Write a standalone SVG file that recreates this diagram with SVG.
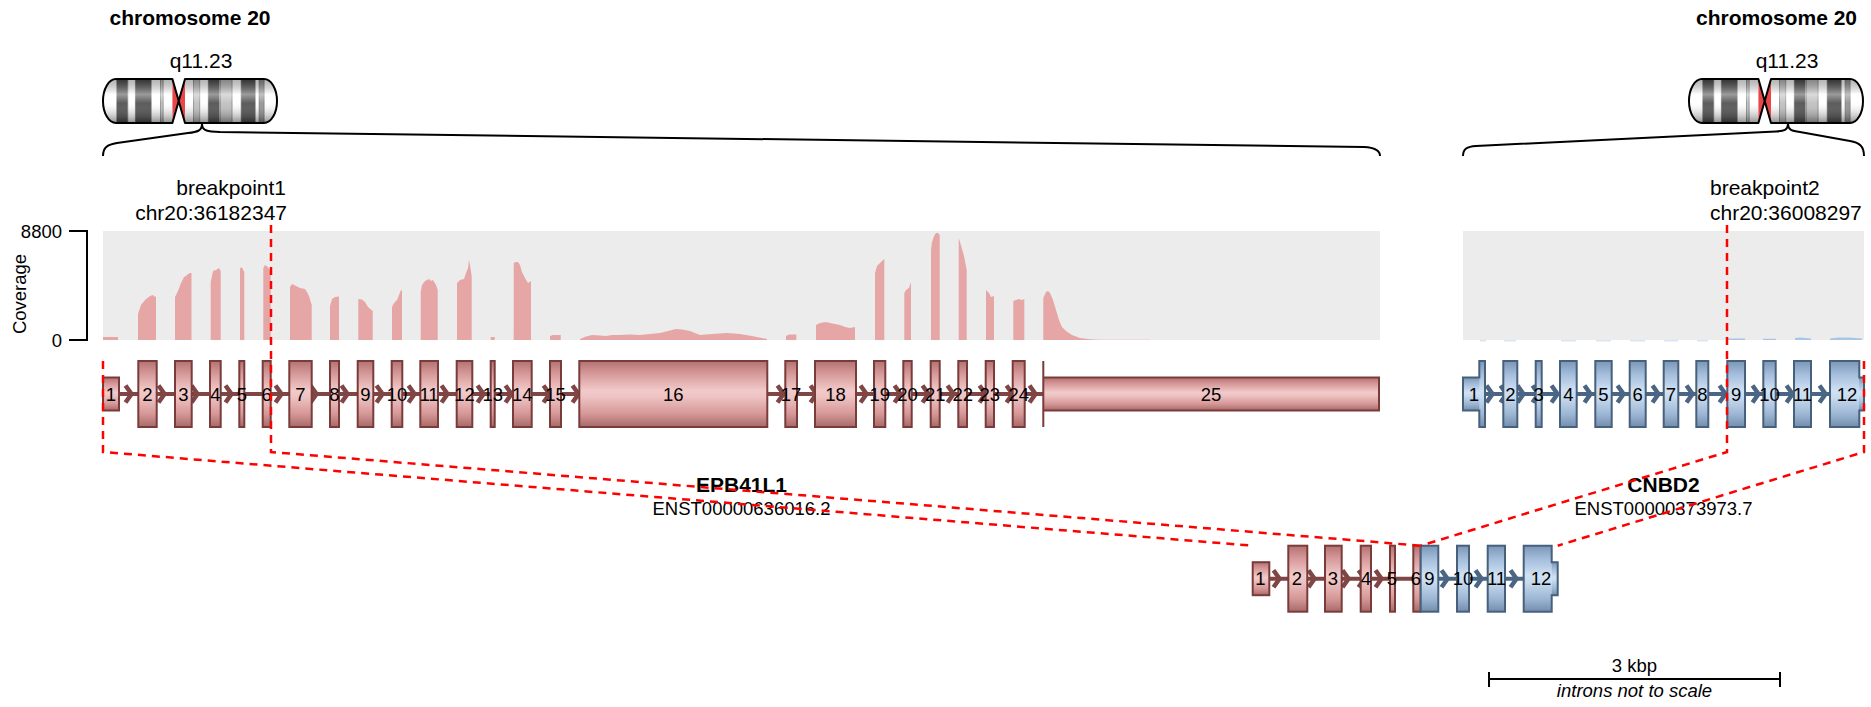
<svg xmlns="http://www.w3.org/2000/svg" xmlns:xlink="http://www.w3.org/1999/xlink" width="1871" height="707" viewBox="0 0 1871 707">
  <style>
    text { font-family: "Liberation Sans", Arial, sans-serif; fill: #000; }
    .big { font-size: 21px; }
    .mid { font-size: 18.5px; }
    .bold { font-weight: bold; }
    .c { text-anchor: middle; }
    .e { text-anchor: end; }
    .lbl { font-size: 18.5px; text-anchor: middle; }
    .exA { fill: url(#gradA); stroke: #7a3b3b; stroke-width: 2; }
    .exB { fill: url(#gradB); stroke: #47607c; stroke-width: 2; }
    .fillA { fill: url(#gradA); stroke: none; }
    .fillB { fill: url(#gradB); stroke: none; }
    .outA { fill: none; stroke: #7a3b3b; stroke-width: 2; }
    .outB { fill: none; stroke: #47607c; stroke-width: 2; }
    .inA { stroke: #804545; stroke-width: 4; fill: none; }
    .inB { stroke: #4b6584; stroke-width: 4; fill: none; }
    .chA { stroke: #804545; stroke-width: 4.5; fill: none; }
    .chB { stroke: #4b6584; stroke-width: 4.5; fill: none; }
    .covA { fill: #e6a6a6; }
    .covB { fill: #a9c5e6; }
    .bg { fill: #ececec; }
    .axis { stroke: #000; stroke-width: 2; fill: none; }
    .brace { stroke: #000; stroke-width: 2; fill: none; }
    .bp { stroke: #ff0000; stroke-width: 2.5; stroke-dasharray: 8 6; fill: none; }
    .gneg { fill: #ffffff; }
    .g25 { fill: #bdbdbd; }
    .g50 { fill: #8f8f8f; }
    .g75 { fill: #4a4a4a; }
  </style>
  <defs>
    <linearGradient id="gradA" x1="0" y1="0" x2="0" y2="1">
      <stop offset="0" stop-color="#b47272"/>
      <stop offset="0.2" stop-color="#d79a9a"/>
      <stop offset="0.45" stop-color="#f2caca"/>
      <stop offset="0.55" stop-color="#eec2c2"/>
      <stop offset="0.8" stop-color="#d69797"/>
      <stop offset="1" stop-color="#a86969"/>
    </linearGradient>
    <linearGradient id="gradB" x1="0" y1="0" x2="0" y2="1">
      <stop offset="0" stop-color="#7b96b6"/>
      <stop offset="0.2" stop-color="#a3bddb"/>
      <stop offset="0.45" stop-color="#d0e1f3"/>
      <stop offset="0.55" stop-color="#c8dbef"/>
      <stop offset="0.8" stop-color="#9db7d4"/>
      <stop offset="1" stop-color="#738dad"/>
    </linearGradient>
    <linearGradient id="shade" x1="0" y1="0" x2="0" y2="1">
      <stop offset="0" stop-color="#000" stop-opacity="0.3"/>
      <stop offset="0.35" stop-color="#fff" stop-opacity="0.45"/>
      <stop offset="0.55" stop-color="#fff" stop-opacity="0.1"/>
      <stop offset="1" stop-color="#000" stop-opacity="0.45"/>
    </linearGradient>
    <clipPath id="chrClip">
      <path d="M172.4,79 H116 A13,22 0 0 0 116,123 H172.4 Z M185,79 H264 A13,22 0 0 1 264,123 H185 Z"/>
    </clipPath>
    <path id="chevA" class="chA" d="M-5.5,-8.5 L0.5,0 L-5.5,8.5"/>
    <path id="chevB" class="chB" d="M-5.5,-8.5 L0.5,0 L-5.5,8.5"/>
    <!-- chromosome 20 ideogram (hg38 bands), drawn at the left position -->
    <g id="chr20">
      <g clip-path="url(#chrClip)">
        <rect class="gneg" x="103" y="79" width="13.8" height="44"/>
        <rect class="g75" x="116.8" y="79" width="11" height="44"/>
        <rect class="gneg" x="127.8" y="79" width="7.6" height="44"/>
        <rect class="g75" x="135.4" y="79" width="15.9" height="44"/>
        <rect class="gneg" x="151.3" y="79" width="9.2" height="44"/>
        <rect class="g25" x="160.5" y="79" width="2.7" height="44"/>
        <rect class="gneg" x="163.2" y="79" width="9.2" height="44"/>
        <rect class="gneg" x="185" y="79" width="8.5" height="44"/>
        <rect class="g25" x="193.5" y="79" width="6.2" height="44"/>
        <rect class="gneg" x="199.7" y="79" width="8.6" height="44"/>
        <rect class="g75" x="208.3" y="79" width="11.1" height="44"/>
        <rect class="gneg" x="219.4" y="79" width="1.1" height="44"/>
        <rect class="g25" x="220.5" y="79" width="11.6" height="44"/>
        <rect class="gneg" x="232.1" y="79" width="9.1" height="44"/>
        <rect class="g75" x="241.2" y="79" width="14.1" height="44"/>
        <rect class="gneg" x="255.3" y="79" width="3.8" height="44"/>
        <rect class="g50" x="259.1" y="79" width="5.1" height="44"/>
        <rect class="gneg" x="264.2" y="79" width="13" height="44"/>
        <g stroke="#555" stroke-width="0.6">
          <line x1="116.8" y1="79" x2="116.8" y2="123"/>
          <line x1="127.8" y1="79" x2="127.8" y2="123"/>
          <line x1="135.4" y1="79" x2="135.4" y2="123"/>
          <line x1="151.3" y1="79" x2="151.3" y2="123"/>
          <line x1="160.5" y1="79" x2="160.5" y2="123"/>
          <line x1="163.2" y1="79" x2="163.2" y2="123"/>
          <line x1="193.5" y1="79" x2="193.5" y2="123"/>
          <line x1="199.7" y1="79" x2="199.7" y2="123"/>
          <line x1="208.3" y1="79" x2="208.3" y2="123"/>
          <line x1="219.4" y1="79" x2="219.4" y2="123"/>
          <line x1="220.5" y1="79" x2="220.5" y2="123"/>
          <line x1="232.1" y1="79" x2="232.1" y2="123"/>
          <line x1="241.2" y1="79" x2="241.2" y2="123"/>
          <line x1="255.3" y1="79" x2="255.3" y2="123"/>
          <line x1="259.1" y1="79" x2="259.1" y2="123"/>
          <line x1="264.2" y1="79" x2="264.2" y2="123"/>
        </g>
        <rect x="100" y="79" width="180" height="44" fill="url(#shade)"/>
      </g>
      <!-- centromere -->
      <path d="M172.4,79 L178.7,101 L172.4,123 Z M185,79 L178.7,101 L185,123 Z" fill="#e8474a"/>
      <path d="M172.4,79 H116 A13,22 0 0 0 116,123 H172.4 L185,79 H264 A13,22 0 0 1 264,123 H185 L172.4,79 Z" fill="none" stroke="#000" stroke-width="2" stroke-linejoin="round"/>
    </g>
  </defs>

  <!-- chromosome panels -->
  <g id="chromosome-left">
    <text class="big bold c" x="190" y="25">chromosome 20</text>
    <text class="big c" x="201" y="68">q11.23</text>
    <use xlink:href="#chr20"/>
    <path class="brace" d="M202,124 C202,131 197,132 188,133 L117,143 C107,144.5 103,148 103,156"/>
    <path class="brace" d="M202,124 C202,131 208,131.5 220,132 L1364,147 C1374,147.5 1380,150 1380,156"/>
  </g>
  <g id="chromosome-right">
    <text class="big bold c" x="1776.5" y="25">chromosome 20</text>
    <text class="big c" x="1787" y="68">q11.23</text>
    <use xlink:href="#chr20" transform="translate(1586,0)"/>
    <path class="brace" d="M1788,124 C1788,130 1784,131 1776,131.5 L1476,146 C1467,146.5 1463,149 1463,156"/>
    <path class="brace" d="M1788,124 C1788,130 1792,131 1800,132 L1850,141 C1859,142.5 1864,146 1864,156"/>
  </g>

  <!-- coverage axis -->
  <g id="coverage-axis">
    <path class="axis" d="M69,231 H87 V340 H69"/>
    <text class="mid e" x="62" y="238">8800</text>
    <text class="mid e" x="62" y="346.5">0</text>
    <text class="mid c" transform="translate(26,294) rotate(-90)">Coverage</text>
  </g>

  <!-- coverage of EPB41L1 -->
  <g id="coverage-gene1">
    <rect class="bg" x="103" y="231" width="1277" height="109"/>
    <path class="covA" d="M103,340 V337 H118 V340 Z
      M138,340 V314 L141,305 L145,300 L150,296 L153,295 L155,297 L156,296 V340 Z
      M175,340 V297 L178,291 L181,283 L184,277 L186,276 L188,274 L190,273 L191.5,273 V340 Z
      M210.7,340 V282 L213,271 L216,270 L219,268 L220.7,271 V340 Z
      M240,340 V268 L242,267.5 L244.3,272 V340 Z
      M263.3,340 V268 L265,265 L268,267 L270.7,272 V340 Z
      M290,340 V287 L292,284 L296,286 L300,288 L305,289 L307,292 L309,296 L311.7,305 V340 Z
      M330,340 V306 L332,299 L335,297 L339,296.5 V340 Z
      M358.3,340 V299 L362,299.5 L365,302 L368,307 L372.7,311 V340 Z
      M392,340 V307 L394,303 L397,300 L399,295 L401,290 L402,291 V340 Z
      M420.7,340 V292 L422,285 L425,281 L429,279 L431,281 L433,280 L436,285 L437.7,290 V340 Z
      M457,340 V283 L460,280 L464,279 L466,273 L468,268 L469,260 L470,265 L471.7,276 V340 Z
      M490.7,340 V337 H494.7 V340 Z
      M513.7,340 V263 L516,262 L518,262 L520,265 L522,272 L525,278 L528,283 L531,281 V340 Z
      M550,340 V336 L553,335 H560.7 V340 Z
      M580,340 V339 L586,336.5 L592,335 L600,335.5 L606,336 L612,335 L620,335 L630,334.5 L640,335 L650,334 L660,333 L668,331 L676,329 L682,329.5 L690,331 L700,335 L712,334 L727,333 L740,334 L752,336 L767,339 V340 Z
      M786,340 V336 L789,334.5 H796.3 V340 Z
      M816,340 V325 L820,323 L826,322 L830,323 L835,324 L840,325 L845,327 L850,328 L855,327 V340 Z
      M875,340 V273 L877,266 L880,263 L882,261 L884.3,259 V340 Z
      M904.3,340 V293 L906,290 L909,288 L911,282 V340 Z
      M931,340 V250 L932,242 L934,236 L936,233 L938,233 L939.7,235 V340 Z
      M958.7,340 V238 L960,242 L962,249 L964,256 L966.7,270 V340 Z
      M986,340 V290 L989,293 L991,297 L994,296 V340 Z
      M1013.3,340 V301 L1016,300 L1019,299 L1022,300 L1024.3,299 V340 Z
      M1043.3,340 V298 L1046,292 L1048,291 L1050,293 L1053,300 L1056,310 L1059,320 L1062,327 L1066,331 L1072,335 L1080,338 L1090,339.3 L1100,339.7 L1150,339.8 V340 Z"/>
  </g>

  <!-- coverage of CNBD2 -->
  <g id="coverage-gene2">
    <rect class="bg" x="1463" y="231" width="401" height="109"/>
    <path class="covB" d="M1727,340 V338.6 H1745 V340 Z M1763,340 V338.8 H1776 V340 Z M1795,340 V338 L1800,337.6 L1806,338 L1811,338.4 V340 Z M1830,340 V338.4 L1838,337.6 L1848,337.4 L1856,338 L1862,338.4 V340 Z"/>
    <path class="covB" opacity="0.45" d="M1480,340 H1486 V341.5 H1480 Z M1504,340 H1516 V341.5 H1504 Z M1561,340 H1576 V341.5 H1561 Z M1596,340 H1611 V341.5 H1596 Z M1630,340 H1645 V341.5 H1630 Z M1664,340 H1678 V341.5 H1664 Z M1697,340 H1708 V341.5 H1697 Z"/>
  </g>

  <!-- EPB41L1 transcript -->
  <g id="gene1">
    <line class="inA" x1="119" y1="394" x2="1043" y2="394"/>
    <g>
      <use xlink:href="#chevA" x="131" y="394"/>
      <use xlink:href="#chevA" x="164" y="394"/>
      <use xlink:href="#chevA" x="197" y="394"/>
      <use xlink:href="#chevA" x="231" y="394"/>
      <use xlink:href="#chevA" x="281" y="394"/>
      <use xlink:href="#chevA" x="316" y="394"/>
      <use xlink:href="#chevA" x="347" y="394"/>
      <use xlink:href="#chevA" x="382" y="394"/>
      <use xlink:href="#chevA" x="414" y="394"/>
      <use xlink:href="#chevA" x="447" y="394"/>
      <use xlink:href="#chevA" x="483" y="394"/>
      <use xlink:href="#chevA" x="511" y="394"/>
      <use xlink:href="#chevA" x="549" y="394"/>
      <use xlink:href="#chevA" x="578" y="394"/>
      <use xlink:href="#chevA" x="783" y="394"/>
      <use xlink:href="#chevA" x="816" y="394"/>
      <use xlink:href="#chevA" x="866" y="394"/>
      <use xlink:href="#chevA" x="900" y="394"/>
      <use xlink:href="#chevA" x="928" y="394"/>
      <use xlink:href="#chevA" x="953" y="394"/>
      <use xlink:href="#chevA" x="985" y="394"/>
      <use xlink:href="#chevA" x="1012" y="394"/>
      <use xlink:href="#chevA" x="1035" y="394"/>
    </g>
    <rect class="exA" x="103" y="377.5" width="16" height="33"/>
    <rect class="exA" x="138.3" y="361" width="18.4" height="66"/>
    <rect class="exA" x="175" y="361" width="16.7" height="66"/>
    <rect class="exA" x="210" y="361" width="10.7" height="66"/>
    <rect class="exA" x="239.3" y="361" width="5" height="66"/>
    <rect class="exA" x="262.7" y="361" width="8" height="66"/>
    <rect class="exA" x="289.3" y="361" width="22.4" height="66"/>
    <rect class="exA" x="330" y="361" width="9" height="66"/>
    <rect class="exA" x="357.7" y="361" width="15.6" height="66"/>
    <rect class="exA" x="391.7" y="361" width="10.6" height="66"/>
    <rect class="exA" x="420.3" y="361" width="17.7" height="66"/>
    <rect class="exA" x="456.7" y="361" width="15.6" height="66"/>
    <rect class="exA" x="490.7" y="361" width="4" height="66"/>
    <rect class="exA" x="513" y="361" width="18.7" height="66"/>
    <rect class="exA" x="550" y="361" width="11" height="66"/>
    <rect class="exA" x="579.3" y="361" width="188" height="66"/>
    <rect class="exA" x="785.3" y="361" width="11.7" height="66"/>
    <rect class="exA" x="815" y="361" width="41" height="66"/>
    <rect class="exA" x="874" y="361" width="11.3" height="66"/>
    <rect class="exA" x="903.3" y="361" width="8.4" height="66"/>
    <rect class="exA" x="930.7" y="361" width="9" height="66"/>
    <rect class="exA" x="958.3" y="361" width="8.7" height="66"/>
    <rect class="exA" x="985.7" y="361" width="8.3" height="66"/>
    <rect class="exA" x="1012.7" y="361" width="12" height="66"/>
    <rect class="fillA" x="1043.3" y="377.5" width="335.7" height="33"/>
    <path class="outA" d="M1043.3,361 V427 M1043.3,377.5 H1379 V410.5 H1043.3"/>
    <g>
      <text class="lbl" x="111" y="400.6">1</text>
      <text class="lbl" x="147.5" y="400.6">2</text>
      <text class="lbl" x="183.3" y="400.6">3</text>
      <text class="lbl" x="215.3" y="400.6">4</text>
      <text class="lbl" x="241.8" y="400.6">5</text>
      <text class="lbl" x="266.7" y="400.6">6</text>
      <text class="lbl" x="300.5" y="400.6">7</text>
      <text class="lbl" x="334.5" y="400.6">8</text>
      <text class="lbl" x="365.5" y="400.6">9</text>
      <text class="lbl" x="397" y="400.6">10</text>
      <text class="lbl" x="429" y="400.6">11</text>
      <text class="lbl" x="464.5" y="400.6">12</text>
      <text class="lbl" x="492.7" y="400.6">13</text>
      <text class="lbl" x="522.3" y="400.6">14</text>
      <text class="lbl" x="555.5" y="400.6">15</text>
      <text class="lbl" x="673.3" y="400.6">16</text>
      <text class="lbl" x="791" y="400.6">17</text>
      <text class="lbl" x="835.5" y="400.6">18</text>
      <text class="lbl" x="879.7" y="400.6">19</text>
      <text class="lbl" x="907.5" y="400.6">20</text>
      <text class="lbl" x="935.2" y="400.6">21</text>
      <text class="lbl" x="962.7" y="400.6">22</text>
      <text class="lbl" x="989.8" y="400.6">23</text>
      <text class="lbl" x="1018.7" y="400.6">24</text>
      <text class="lbl" x="1211" y="400.6">25</text>
    </g>
    <text class="big bold c" x="741.5" y="491.5">EPB41L1</text>
    <text class="mid c" x="741.5" y="515">ENST00000636016.2</text>
  </g>

  <!-- CNBD2 transcript -->
  <g id="gene2">
    <line class="inB" x1="1485" y1="394" x2="1830" y2="394"/>
    <g>
      <use xlink:href="#chevB" x="1492" y="394"/>
      <use xlink:href="#chevB" x="1506" y="394"/>
      <use xlink:href="#chevB" x="1523" y="394"/>
      <use xlink:href="#chevB" x="1538" y="394"/>
      <use xlink:href="#chevB" x="1557" y="394"/>
      <use xlink:href="#chevB" x="1590" y="394"/>
      <use xlink:href="#chevB" x="1623" y="394"/>
      <use xlink:href="#chevB" x="1658" y="394"/>
      <use xlink:href="#chevB" x="1692" y="394"/>
      <use xlink:href="#chevB" x="1725" y="394"/>
      <use xlink:href="#chevB" x="1758" y="394"/>
      <use xlink:href="#chevB" x="1792" y="394"/>
      <use xlink:href="#chevB" x="1825" y="394"/>
    </g>
    <rect class="fillB" x="1463" y="377.5" width="17" height="33"/>
    <rect class="fillB" x="1479.3" y="361" width="5.7" height="66"/>
    <path class="outB" d="M1463,377.5 H1479.3 V361 H1485 V427 H1479.3 V410.5 H1463 Z"/>
    <rect class="exB" x="1503.3" y="361" width="14" height="66"/>
    <rect class="exB" x="1535.7" y="361" width="6" height="66"/>
    <rect class="exB" x="1560" y="361" width="16.7" height="66"/>
    <rect class="exB" x="1595.3" y="361" width="16.4" height="66"/>
    <rect class="exB" x="1629.7" y="361" width="16" height="66"/>
    <rect class="exB" x="1663.7" y="361" width="14.6" height="66"/>
    <rect class="exB" x="1696.3" y="361" width="12" height="66"/>
    <rect class="exB" x="1727.3" y="361" width="17.7" height="66"/>
    <rect class="exB" x="1763.3" y="361" width="12.4" height="66"/>
    <rect class="exB" x="1794" y="361" width="17" height="66"/>
    <rect class="fillB" x="1830" y="361" width="29.3" height="66"/>
    <rect class="fillB" x="1859" y="377.5" width="5" height="33"/>
    <path class="outB" d="M1830,361 H1859.3 V377.5 H1864 V410.5 H1859.3 V427 H1830 Z"/>
    <g>
      <text class="lbl" x="1474" y="400.6">1</text>
      <text class="lbl" x="1510.3" y="400.6">2</text>
      <text class="lbl" x="1538.7" y="400.6">3</text>
      <text class="lbl" x="1568.3" y="400.6">4</text>
      <text class="lbl" x="1603.5" y="400.6">5</text>
      <text class="lbl" x="1637.7" y="400.6">6</text>
      <text class="lbl" x="1671" y="400.6">7</text>
      <text class="lbl" x="1702.3" y="400.6">8</text>
      <text class="lbl" x="1736.2" y="400.6">9</text>
      <text class="lbl" x="1769.5" y="400.6">10</text>
      <text class="lbl" x="1802.5" y="400.6">11</text>
      <text class="lbl" x="1847" y="400.6">12</text>
    </g>
    <text class="big bold c" x="1663.5" y="491.5">CNBD2</text>
    <text class="mid c" x="1663.5" y="515">ENST00000373973.7</text>
  </g>

  <!-- fused transcript -->
  <g id="fusion">
    <line class="inA" x1="1269" y1="578.7" x2="1414" y2="578.7"/>
    <line class="inB" x1="1438" y1="578.7" x2="1524" y2="578.7"/>
    <use xlink:href="#chevA" x="1279" y="578.7"/>
    <use xlink:href="#chevA" x="1314" y="578.7"/>
    <use xlink:href="#chevA" x="1348" y="578.7"/>
    <use xlink:href="#chevA" x="1364" y="578.7"/>
    <use xlink:href="#chevA" x="1381" y="578.7"/>
    <use xlink:href="#chevB" x="1447" y="578.7"/>
    <use xlink:href="#chevB" x="1481" y="578.7"/>
    <use xlink:href="#chevB" x="1516" y="578.7"/>
    <rect class="exA" x="1252.7" y="562.2" width="16.6" height="33"/>
    <rect class="exA" x="1288.3" y="545.7" width="19" height="66"/>
    <rect class="exA" x="1325" y="545.7" width="16.7" height="66"/>
    <rect class="exA" x="1360.7" y="545.7" width="10.3" height="66"/>
    <rect class="exA" x="1390" y="545.7" width="5" height="66"/>
    <rect class="exA" x="1413.3" y="545.7" width="7.4" height="66"/>
    <rect class="exB" x="1420.7" y="545.7" width="17.6" height="66"/>
    <rect class="exB" x="1457" y="545.7" width="12" height="66"/>
    <rect class="exB" x="1487.7" y="545.7" width="17.3" height="66"/>
    <rect class="fillB" x="1523.7" y="545.7" width="28" height="66"/>
    <rect class="fillB" x="1551.5" y="562.2" width="6.2" height="33"/>
    <path class="outB" d="M1523.7,545.7 H1551.7 V562.2 H1557.7 V595.2 H1551.7 V611.7 H1523.7 Z"/>
    <g>
      <text class="lbl" x="1260.5" y="585.3">1</text>
      <text class="lbl" x="1297" y="585.3">2</text>
      <text class="lbl" x="1333" y="585.3">3</text>
      <text class="lbl" x="1366" y="585.3">4</text>
      <text class="lbl" x="1392" y="585.3">5</text>
      <text class="lbl" x="1416" y="585.3">6</text>
      <text class="lbl" x="1429.5" y="585.3">9</text>
      <text class="lbl" x="1463" y="585.3">10</text>
      <text class="lbl" x="1496.5" y="585.3">11</text>
      <text class="lbl" x="1541" y="585.3">12</text>
    </g>
  </g>

  <!-- breakpoint labels -->
  <g id="breakpoint-labels">
    <text class="big e" x="286" y="195">breakpoint1</text>
    <text class="big e" x="287" y="220">chr20:36182347</text>
    <text class="big" x="1710" y="195">breakpoint2</text>
    <text class="big" x="1710" y="220">chr20:36008297</text>
  </g>

  <!-- connectors from gene regions to the fused transcript -->
  <g id="connectors">
    <path class="bp" d="M103,361 V452 L1252.7,545.7"/>
    <path class="bp" d="M271,225 V452 L1420.7,545.7"/>
    <path class="bp" d="M1727,225 V452 L1420.7,545.7"/>
    <path class="bp" d="M1864,361 V452 L1557.7,545.7"/>
  </g>

  <!-- scale bar -->
  <g id="scale">
    <path class="axis" d="M1489,679 H1780 M1489,672 V687 M1780,672 V687"/>
    <text class="mid c" x="1634.5" y="672">3 kbp</text>
    <text class="mid c" x="1634.5" y="697" font-style="italic">introns not to scale</text>
  </g>
</svg>
